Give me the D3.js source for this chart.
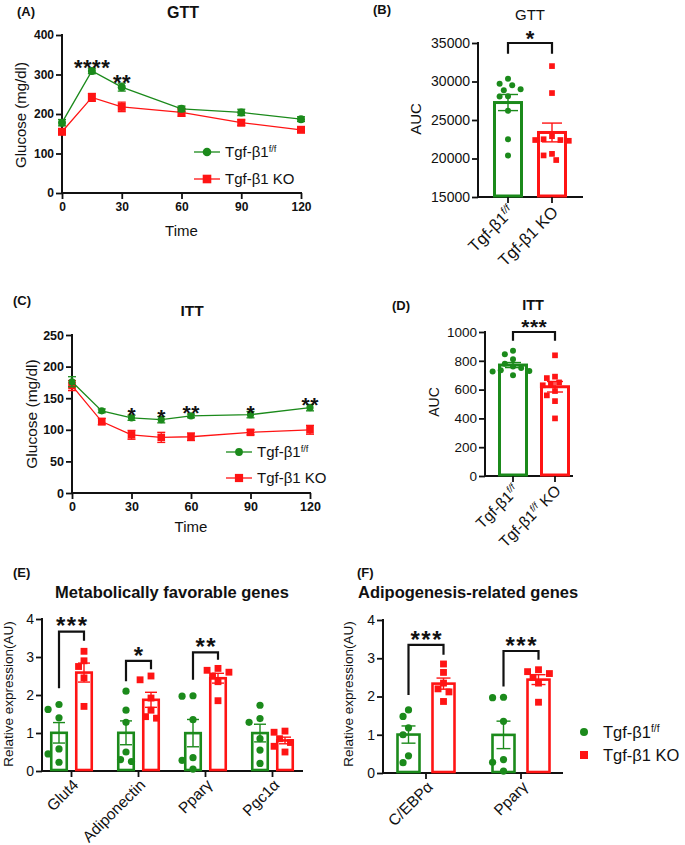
<!DOCTYPE html>
<html><head><meta charset="utf-8">
<script src="https://cdn.jsdelivr.net/npm/d3@7"></script>
<style>
body{margin:0;background:#fff}
text{font-family:"Liberation Sans",Arial,sans-serif;fill:#111}
</style>
</head><body>
<svg id="c" width="685" height="845"></svg>
<script>
// ---------------- DATA ----------------
const groupNames = ["Tgf-β1", "Tgf-β1 KO"];

// (A) GTT
const gttTime = [0, 15, 30, 60, 90, 120];
const gttWT = [178, 309, 268, 213, 204, 187];
const gttWTerr = [8, 7, 10, 7, 8, 6];
const gttKO = [155, 242, 218, 204, 178, 160];
const gttKOerr = [7, 10, 12, 10, 7, 5];
const gttStarTime = [15, 30];
const gttStarVal = [332, 294];
const gttStarText = ["****", "**"];

// (B) GTT AUC
const gttAucWT = [30370, 29700, 29500, 29000, 28850, 28100, 28050, 26200, 22500, 20400];
const gttAucKO = [32000, 28500, 22900, 22500, 22400, 22300, 22400, 20600, 20400, 19800];

// (C) ITT
const ittTime = [0, 15, 30, 45, 60, 90, 120];
const ittWT = [176, 130, 119, 116, 122, 124, 135];
const ittWTerr = [8, 3, 4, 5, 3, 5, 5];
const ittKO = [170, 113, 92, 88, 89, 96, 100];
const ittKOerr = [8, 5, 7, 8, 6, 4, 7];
const ittStarTime = [30, 45, 60, 90, 120];
const ittStarVal = [131, 129, 134, 134, 148];
const ittStarText = ["*", "*", "**", "*", "**"];

// (D) ITT AUC
const ittAucWT = [870, 845, 810, 780, 760, 750, 735, 730, 725, 700];
const ittAucKO = [838, 690, 680, 650, 640, 630, 590, 560, 520, 400];

// (E) Metabolically favorable genes
const genesE = ["Glut4", "Adiponectin", "Pparγ", "Pgc1α"];
const eWT = [
  [1.75, 1.62, 1.40, 0.58, 0.45, 0.23],
  [2.10, 1.60, 1.28, 0.50, 0.30, 0.25],
  [1.97, 1.98, 1.35, 0.35, 0.28, 0.05],
  [1.73, 1.38, 1.28, 0.85, 0.55, 0.20]
];
const eKO = [
  [3.15, 2.90, 2.75, 2.45, 1.70],
  [2.50, 2.40, 1.92, 1.60, 1.43, 1.39],
  [2.70, 2.65, 2.60, 2.50, 2.35, 1.85],
  [1.05, 1.02, 0.85, 0.75, 0.65, 0.50]
];
const eSigGene = [0, 1, 2];
const eSigTop = [3.67, 2.90, 3.12];
const eSigLeft = [2.18, 2.36, 2.40];
const eSigRight = [3.43, 2.68, 2.93];
const eSigText = ["***", "*", "**"];

// (F) Adipogenesis-related genes
const genesF = ["C/EBPα", "Pparγ"];
const fWT = [
  [1.65, 1.48, 1.18, 1.00, 0.45, 0.27],
  [1.97, 1.98, 1.35, 0.35, 0.28, 0.05]
];
const fKO = [
  [2.85, 2.63, 2.35, 2.20, 2.12, 1.87],
  [2.70, 2.65, 2.60, 2.50, 2.35, 1.85]
];
const fSigGene = [0, 1];
const fSigTop = [3.35, 3.19];
const fSigLeft = [2.04, 2.26];
const fSigRight = [3.09, 2.96];
const fSigText = ["***", "***"];

// ---------------- STYLE ----------------
const GREEN = "#1b8a1b", RED = "#ff1414";
const svg = d3.select("#c");

function styleAxis(g, fs, bold) {
  g.select(".domain").remove();
  g.selectAll(".tick line").attr("stroke", "#111").attr("stroke-width", 1.8);
  g.selectAll(".tick text").attr("font-size", fs).attr("font-weight", bold ? "bold" : "normal").attr("fill", "#111");
}
function hLine(x1, x2, y, w) {
  svg.append("line").attr("x1", x1).attr("x2", x2).attr("y1", y).attr("y2", y).attr("stroke", "#111").attr("stroke-width", w || 2);
}
function vLine(x, y1, y2, w) {
  svg.append("line").attr("x1", x).attr("x2", x).attr("y1", y1).attr("y2", y2).attr("stroke", "#111").attr("stroke-width", w || 2);
}
function label(t, x, y, opt) {
  opt = opt || {};
  const e = svg.append("text").attr("x", x).attr("y", y).text(t)
    .attr("font-size", opt.fs || 13).attr("font-weight", opt.bold ? "bold" : "normal")
    .attr("text-anchor", opt.anchor || "start");
  if (opt.rot) e.attr("transform", `rotate(${opt.rot},${x},${y})`);
  return e;
}
// group name with superscript f/f
function groupText(sel, i, fs, supOnKO, italicSup) {
  sel.append("tspan").text(groupNames[0]);
  const sup = () => sel.append("tspan").text("f/f").attr("font-size", fs * 0.62).attr("dy", -fs * 0.38)
      .attr("font-style", italicSup ? "italic" : "normal");
  if (i === 0) {
    sup();
  } else if (supOnKO) {
    sup();
    sel.append("tspan").text(" KO").attr("dy", fs * 0.38);
  } else {
    sel.append("tspan").text(" KO");
  }
}
function stars(t, cx, cy, fs, ls) {
  svg.append("text").attr("x", cx + ls / 2).attr("y", cy + fs * 0.58).text(t)
    .attr("font-size", fs).attr("font-weight", "bold").attr("text-anchor", "middle")
    .attr("letter-spacing", ls);
}
function marker(g, shape, x, y, size, color) {
  if (shape === "circle") g.append("circle").attr("cx", x).attr("cy", y).attr("r", size).attr("fill", color);
  else g.append("rect").attr("x", x - size).attr("y", y - size).attr("width", size * 2).attr("height", size * 2).attr("fill", color);
}
function swarm(vals, y, r, gap, spread) {
  const pts = vals.map((v, i) => ({ v, i, py: y(v) })).sort((a, b) => a.py - b.py);
  const placed = [];
  const d = 2 * r + gap;
  pts.forEach(p => {
    for (let k = 0; k < 40; k++) {
      const off = k === 0 ? 0 : (k % 2 ? -1 : 1) * Math.ceil(k / 2) * d * spread;
      const ok = placed.every(q => (off - q.off) ** 2 + (p.py - q.py) ** 2 >= d * d);
      if (ok) { p.off = off; placed.push(p); break; }
    }
  });
  return pts;
}

// ---------------- LINE PANELS ----------------
function linePanel(o) {
  const x = d3.scaleLinear().domain([0, 120]).range([o.x0, o.x1]);
  const y = d3.scaleLinear().domain([0, o.yMax]).range([o.y0, o.y1]);
  const ga = svg.append("g").attr("transform", `translate(${o.x0},0)`)
    .call(d3.axisLeft(y).tickValues(o.yTicks).tickSize(6).tickPadding(2).tickSizeOuter(0));
  styleAxis(ga, o.tickFs, true);
  const gb = svg.append("g").attr("transform", `translate(0,${o.y0})`)
    .call(d3.axisBottom(x).tickValues([0, 30, 60, 90, 120]).tickSize(6).tickPadding(3).tickSizeOuter(0));
  styleAxis(gb, o.tickFs, true);
  vLine(o.x0, o.y1 - 1, o.y0 + 1);
  hLine(o.x0 - 1, o.x1 + 1, o.y0);

  const series = [
    { v: o.wt, e: o.wtErr, c: GREEN, s: "circle", sz: o.cr },
    { v: o.ko, e: o.koErr, c: RED, s: "square", sz: o.sq }
  ];
  [series[1], series[0]].forEach(S => {
    const g = svg.append("g");
    const pts = o.time.map((t, i) => [x(t), y(S.v[i])]);
    g.append("path").attr("d", d3.line()(pts)).attr("fill", "none").attr("stroke", S.c).attr("stroke-width", 1.3);
    o.time.forEach((t, i) => {
      const cx = x(t), yt = y(S.v[i] + S.e[i]), yb = y(S.v[i] - S.e[i]);
      g.append("line").attr("x1", cx).attr("x2", cx).attr("y1", yt).attr("y2", yb).attr("stroke", S.c).attr("stroke-width", 1.3);
      [yt, yb].forEach(yy => g.append("line").attr("x1", cx - 4).attr("x2", cx + 4).attr("y1", yy).attr("y2", yy).attr("stroke", S.c).attr("stroke-width", 1.3));
      marker(g, S.s, cx, y(S.v[i]), S.sz, S.c);
    });
  });
  o.starTime.forEach((t, i) => stars(o.starText[i], x(t), y(o.starVal[i]), o.starFs, 0.5));

  // legend
  series.forEach((S, i) => {
    const ly = o.legY + i * o.legDy;
    svg.append("line").attr("x1", o.legX).attr("x2", o.legX + 26).attr("y1", ly).attr("y2", ly).attr("stroke", S.c).attr("stroke-width", 1.3);
    marker(svg, S.s, o.legX + 13, ly, S.sz + 0.3, S.c);
    const t = svg.append("text").attr("x", o.legX + 31).attr("y", ly + o.legFs * 0.36).attr("font-size", o.legFs);
    groupText(t, i, o.legFs, false, false);
  });
  label(o.title, o.titleX, o.titleY, { fs: o.titleFs, bold: true, anchor: "middle" });
  label("Time", (o.x0 + o.x1) / 2, o.timeY, { fs: 15, anchor: "middle" });
  label("Glucose (mg/dl)", o.ylabX, o.ylabY, { fs: o.ylabFs, anchor: "middle", rot: -90 });
}

linePanel({
  x0: 62, x1: 301, y0: 193, y1: 35, yMax: 400, yTicks: [0, 100, 200, 300, 400], tickFs: 12,
  time: gttTime, wt: gttWT, wtErr: gttWTerr, ko: gttKO, koErr: gttKOerr, cr: 4, sq: 4,
  starTime: gttStarTime, starVal: gttStarVal, starText: gttStarText, starFs: 22,
  legX: 194, legY: 152, legDy: 27, legFs: 15,
  title: "GTT", titleX: 183, titleY: 18, titleFs: 16, timeY: 236, ylabX: 26, ylabY: 115, ylabFs: 15
});
linePanel({
  x0: 72, x1: 310, y0: 493, y1: 335, yMax: 250, yTicks: [0, 50, 100, 150, 200, 250], tickFs: 12.5,
  time: ittTime, wt: ittWT, wtErr: ittWTerr, ko: ittKO, koErr: ittKOerr, cr: 3.6, sq: 3.8,
  starTime: ittStarTime, starVal: ittStarVal, starText: ittStarText, starFs: 21,
  legX: 226, legY: 452, legDy: 26, legFs: 15,
  title: "ITT", titleX: 192, titleY: 316, titleFs: 15.5, timeY: 532, ylabX: 37, ylabY: 414, ylabFs: 15.5
});

// ---------------- BAR PANELS ----------------
function barPanel(o) {
  const y = d3.scaleLinear().domain(o.yDomain).range([o.y0, o.y1]);
  const xb = d3.scaleBand().domain(o.cats).range(o.bandRange);
  const ga = svg.append("g").attr("transform", `translate(${o.x0},0)`)
    .call(d3.axisLeft(y).tickValues(o.yTicks).tickFormat(d3.format("d")).tickSize(6).tickPadding(2).tickSizeOuter(0));
  styleAxis(ga, o.tickFs, false);
  vLine(o.x0, o.y1 - 1, o.y0 + 1);
  hLine(o.x0 - 1, o.x1, o.y0);

  const tickXs = [];
  o.cats.forEach((c, ci) => {
    const gc = xb(c) + xb.bandwidth() / 2;
    const sets = [
      { vals: o.wt[ci], color: GREEN, shape: "circle", cx: gc - o.offset },
      { vals: o.ko[ci], color: RED, shape: "square", cx: gc + o.offset }
    ];
    if (o.perBar) tickXs.push(gc - o.offset, gc + o.offset); else tickXs.push(gc);
    sets.forEach(S => {
      const m = d3.mean(S.vals);
      const sem = d3.deviation(S.vals) / Math.sqrt(S.vals.length);
      const bx = S.cx - o.barW / 2;
      svg.append("rect").attr("x", bx).attr("y", y(m)).attr("width", o.barW).attr("height", o.y0 - y(m) - 1)
        .attr("fill", "#fff").attr("stroke", S.color).attr("stroke-width", o.barSW);
      const g = svg.append("g");
      g.append("line").attr("x1", S.cx).attr("x2", S.cx).attr("y1", y(m + sem)).attr("y2", y(m - sem)).attr("stroke", S.color).attr("stroke-width", 1.4);
      [m + sem, m - sem].forEach(v => g.append("line").attr("x1", S.cx - o.capW / 2).attr("x2", S.cx + o.capW / 2)
        .attr("y1", y(v)).attr("y2", y(v)).attr("stroke", S.color).attr("stroke-width", 1.4));
      swarm(S.vals, y, o.pr, o.gap, o.spread).forEach(p =>
        marker(g, S.shape, S.cx + p.off, p.py, S.shape === "circle" ? o.pr : o.pr * 0.95, S.color));
    });
  });
  // x ticks
  tickXs.forEach(tx => vLine(tx, o.y0, o.y0 + 6, 1.8));
  // significance brackets
  o.sigGene.forEach((gi, k) => {
    const gc = xb(o.cats[gi]) + xb.bandwidth() / 2;
    const xl = gc - o.offset, xr = gc + o.offset, yt = y(o.sigTop[k]);
    svg.append("path").attr("d", `M${xl},${y(o.sigLeft[k])}V${yt}H${xr}V${y(o.sigRight[k])}`)
      .attr("fill", "none").attr("stroke", "#111").attr("stroke-width", 2.2);
    stars(o.sigText[k], (xl + xr) / 2, yt - o.starGap, o.starFs, o.starLs);
  });
  // x labels
  const labs = o.perBar ? o.barLabels : o.cats;
  labs.forEach((c, ci) => {
    const lx = tickXs[ci] + o.labDx, ly = o.y0 + o.labDy;
    const t = svg.append("text").attr("transform", `translate(${lx},${ly}) rotate(-45)`)
      .attr("text-anchor", "end").attr("dy", "0.35em").attr("font-size", o.labFs);
    if (o.perBar) groupText(t, ci, o.labFs, o.supOnKO, o.italicSup);
    else t.text(c);
  });
  label(o.title, o.titleX, o.titleY, { fs: o.titleFs, bold: o.titleBold, anchor: o.titleAnchor || "middle" });
  label(o.ylab, o.ylabX, o.ylabY, { fs: o.ylabFs, anchor: "middle", rot: -90 });
  return y;
}

// (B)
barPanel({
  x0: 478, x1: 583, y0: 197, y1: 43, yDomain: [15000, 35000], yTicks: [15000, 20000, 25000, 30000, 35000], tickFs: 14,
  cats: ["auc"], bandRange: [486, 574], offset: 22, barW: 27, barSW: 3, capW: 20, pr: 3, gap: 1, spread: 0.6,
  wt: [gttAucWT], ko: [gttAucKO], perBar: true, barLabels: [0, 1], supOnKO: false, italicSup: true,
  sigGene: [0], sigTop: [35000], sigLeft: [33600], sigRight: [33600], sigText: ["*"],
  labDx: 3, labDy: 12, labFs: 16.5,
  title: "GTT", titleX: 530, titleY: 20, titleFs: 15, titleBold: false,
  ylab: "AUC", ylabX: 421, ylabY: 119, ylabFs: 15, starFs: 22, starLs: 0.5, starGap: 10
});
// (D)
barPanel({
  x0: 485, x1: 573, y0: 476, y1: 332, yDomain: [0, 1000], yTicks: [0, 200, 400, 600, 800, 1000], tickFs: 13.5,
  cats: ["auc"], bandRange: [490, 578], offset: 21, barW: 27, barSW: 3, capW: 16, pr: 3, gap: 0.8, spread: 0.6,
  wt: [ittAucWT], ko: [ittAucKO], perBar: true, barLabels: [0, 1], supOnKO: true, italicSup: true,
  sigGene: [0], sigTop: [1000], sigLeft: [940], sigRight: [940], sigText: ["***"],
  labDx: 3, labDy: 12, labFs: 15.5,
  title: "ITT", titleX: 533, titleY: 310, titleFs: 14.5, titleBold: true,
  ylab: "AUC", ylabX: 439, ylabY: 402, ylabFs: 14, starFs: 21, starLs: 0.5, starGap: 10
});
// (E)
barPanel({
  x0: 42, x1: 303, y0: 771, y1: 619, yDomain: [0, 4], yTicks: [0, 1, 2, 3, 4], tickFs: 14,
  cats: genesE, bandRange: [38, 306], offset: 12.5, barW: 15.5, barSW: 2.6, capW: 12, pr: 3.6, gap: 0.6, spread: 0.7,
  wt: eWT, ko: eKO, perBar: false,
  sigGene: eSigGene, sigTop: eSigTop, sigLeft: eSigLeft, sigRight: eSigRight, sigText: eSigText,
  labDx: 4, labDy: 11, labFs: 15.5,
  title: "Metabolically favorable genes", titleX: 172, titleY: 598, titleFs: 16.5, titleBold: true,
  ylab: "Relative expression(AU)", ylabX: 13, ylabY: 694, ylabFs: 13.5, starFs: 24, starLs: 1.5, starGap: 11
});
// (F)
barPanel({
  x0: 383, x1: 563, y0: 773, y1: 620, yDomain: [0, 4], yTicks: [0, 1, 2, 3, 4], tickFs: 14,
  cats: genesF, bandRange: [378.5, 568.5], offset: 17.5, barW: 22, barSW: 2.6, capW: 14, pr: 3.6, gap: 0.6, spread: 0.7,
  wt: fWT, ko: fKO, perBar: false,
  sigGene: fSigGene, sigTop: fSigTop, sigLeft: fSigLeft, sigRight: fSigRight, sigText: fSigText,
  labDx: 4, labDy: 11, labFs: 15.5,
  title: "Adipogenesis-related genes", titleX: 358, titleY: 598, titleFs: 16.5, titleBold: true, titleAnchor: "start",
  ylab: "Relative expression(AU)", ylabX: 353, ylabY: 694, ylabFs: 13.5, starFs: 24, starLs: 1.5, starGap: 11
});

// F legend
[[GREEN, "circle"], [RED, "square"]].forEach((L, i) => {
  const ly = 732 + i * 23;
  marker(svg, L[1], 584, ly, 4, L[0]);
  const t = svg.append("text").attr("x", 603).attr("y", ly + 16.5 * 0.36).attr("font-size", 16.5);
  groupText(t, i, 16.5, false, false);
});

// panel letters
[["(A)", 17, 16], ["(B)", 373, 14], ["(C)", 13, 305], ["(D)", 392, 310], ["(E)", 13, 577], ["(F)", 357, 577]]
  .forEach(p => label(p[0], p[1], p[2], { fs: 13, bold: true }));
</script>
</body></html>
